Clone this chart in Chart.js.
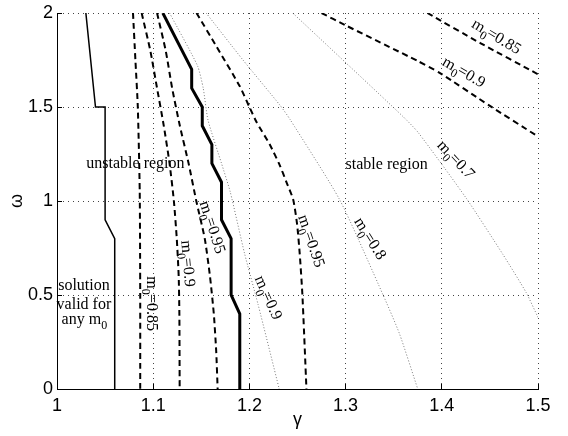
<!DOCTYPE html>
<html>
<head>
<meta charset="utf-8">
<script src="https://cdn.jsdelivr.net/npm/chart.js@4"></script>
<style>
  html, body { margin: 0; padding: 0; background: #fff; }
  #wrap { width: 568px; height: 436px; }
</style>
</head>
<body>
<div id="wrap"><canvas id="chart-stab" width="568" height="436"></canvas></div>
<script>
// boundary valid for any m0 (thin solid)
const anyG = [1.03, 1.04, 1.05, 1.05, 1.06, 1.06];
const anyW = [2, 1.5, 1.5, 0.9, 0.8, 0];

// thick solid boundary
const thickG = [1.11, 1.14, 1.14, 1.151, 1.151, 1.161, 1.161, 1.171, 1.171, 1.181, 1.181, 1.19, 1.19];
const thickW = [2, 1.7, 1.6, 1.5, 1.4, 1.3, 1.2, 1.1, 0.9, 0.8, 0.5, 0.4, 0];

// dashed, left side (m0 = 0.85, 0.9, 0.95)
const d085G = [1.079, 1.0815, 1.084, 1.086, 1.0865, 1.0865];
const d085W = [2, 1.75, 1.5, 1.05, 0.5, 0];
const d09G = [1.088, 1.097, 1.104, 1.111, 1.117, 1.1215, 1.1245, 1.1265, 1.1272, 1.1275];
const d09W = [2, 1.8, 1.6, 1.4, 1.2, 1.0, 0.8, 0.6, 0.4, 0];
const d095G = [1.104, 1.113, 1.1197, 1.1277, 1.1368, 1.1448, 1.1536, 1.159, 1.163, 1.1655, 1.167];
const d095W = [2, 1.8, 1.6, 1.4, 1.2, 1.0, 0.8, 0.6, 0.4, 0.2, 0];

// dashed, right side (m0 = 0.95, 0.9, 0.85)
const r095G = [1.145, 1.166, 1.19, 1.2, 1.2074, 1.2212, 1.2316, 1.2385, 1.2454, 1.2495, 1.2523, 1.2551, 1.2593];
const r095W = [2, 1.82, 1.61, 1.5, 1.42, 1.3, 1.19, 1.1, 1.01, 0.88, 0.72, 0.5, 0];
const r09G = [1.275, 1.299, 1.3752, 1.3977, 1.4496, 1.4981, 1.5];
const r09W = [2, 1.937, 1.744, 1.682, 1.507, 1.349, 1.342];
const r085G = [1.385, 1.44, 1.5];
const r085W = [2, 1.84, 1.674];

// dotted (m0 = 0.9, 0.8, 0.7)
const p09G = [1.117, 1.146, 1.152, 1.157, 1.171, 1.18, 1.195, 1.209, 1.231];
const p09W = [2, 1.72, 1.6, 1.43, 1.2, 1.05, 0.72, 0.45, 0];
const p08G = [1.155, 1.193, 1.232, 1.242, 1.294, 1.339, 1.356, 1.375];
const p08W = [2, 1.752, 1.508, 1.436, 1.005, 0.5, 0.294, 0];
const p07G = [1.245, 1.3587, 1.3752, 1.4255, 1.4635, 1.4877, 1.5];
const p07W = [2, 1.454, 1.366, 1.014, 0.716, 0.513, 0.381];

// contour labels: value, gamma, omega, rotation (deg)
const labelVals = ['0.85', '0.9', '0.7', '0.8', '0.95', '0.9', '0.95', '0.9', '0.85'];
const labelG = [1.4566, 1.4226, 1.4143, 1.325, 1.2638, 1.2191, 1.161, 1.1355, 1.0983];
const labelW = [1.872, 1.683, 1.218, 0.799, 0.786, 0.485, 0.86, 0.667, 0.454];
const labelRot = [31, 30, 47, 58, 71, 66, 72, 85, 90];

const pts = (g, w) => g.map((v, i) => ({ x: v, y: w[i] }));

document.addEventListener('DOMContentLoaded', function () {
    const serif = '"Liberation Serif", "Times New Roman", serif';
    const sans = '"Liberation Sans", Arial, sans-serif';

    const solid = (g, w, lw) => ({ data: pts(g, w), borderColor: '#000', borderWidth: lw, tension: 0 });
    const dashed = (g, w) => ({ data: pts(g, w), borderColor: '#000', borderWidth: 2, borderDash: [6, 4], tension: 0.2 });
    const dotted = (g, w) => ({ data: pts(g, w), borderColor: '#777', borderWidth: 1, borderDash: [1, 2], tension: 0.2 });
    const fmt = v => String(Math.round(v * 10) / 10);

    // m0 text with subscript
    function drawM0(ctx, val, prefix) {
        ctx.font = '16px ' + serif;
        const wPre = ctx.measureText(prefix).width;
        const wRest = ctx.measureText('=' + val).width;
        ctx.font = '12px ' + serif;
        const wSub = ctx.measureText('0').width;
        const total = wPre + wSub * 0.85 + (val ? wRest : 0);
        let cx = -total / 2;
        ctx.textBaseline = 'middle';
        ctx.textAlign = 'left';
        ctx.font = '16px ' + serif;
        ctx.fillText(prefix, cx, 0);
        cx += wPre;
        ctx.font = '12px ' + serif;
        ctx.fillText('0', cx, 6);
        cx += wSub * 0.85;
        if (val) {
            ctx.font = '16px ' + serif;
            ctx.fillText('=' + val, cx, 0);
        }
    }

    const textPlugin = {
        id: 'texts',
        afterDatasetsDraw(chart) {
            const { ctx, chartArea } = chart;
            const x = chart.scales.x, y = chart.scales.y;
            ctx.save();
            // inward tick marks
            ctx.strokeStyle = '#000';
            ctx.lineWidth = 1;
            ctx.setLineDash([]);
            ctx.beginPath();
            x.ticks.forEach(t => {
                const px = Math.round(x.getPixelForValue(t.value) + 0.5) - 0.5;
                ctx.moveTo(px, chartArea.bottom);
                ctx.lineTo(px, chartArea.bottom - 5);
            });
            y.ticks.forEach(t => {
                const py = Math.round(y.getPixelForValue(t.value) + 0.5) - 0.5;
                ctx.moveTo(chartArea.left, py);
                ctx.lineTo(chartArea.left + 5, py);
            });
            ctx.stroke();

            ctx.fillStyle = '#000';
            // contour labels
            labelVals.forEach((v, i) => {
                ctx.save();
                ctx.translate(x.getPixelForValue(labelG[i]), y.getPixelForValue(labelW[i]));
                ctx.rotate(labelRot[i] * Math.PI / 180);
                drawM0(ctx, v, 'm');
                ctx.restore();
            });

            // region texts
            ctx.font = '16px ' + serif;
            ctx.textAlign = 'center';
            ctx.textBaseline = 'middle';
            ctx.fillText('unstable region', x.getPixelForValue(1.0815), y.getPixelForValue(1.197));
            ctx.fillText('stable region', x.getPixelForValue(1.3427), y.getPixelForValue(1.194));
            const cx = x.getPixelForValue(1.028);
            ctx.fillText('solution', cx, y.getPixelForValue(0.549));
            ctx.fillText('valid for', cx, y.getPixelForValue(0.447));
            ctx.save();
            ctx.translate(cx, y.getPixelForValue(0.367));
            drawM0(ctx, '', 'any m');
            ctx.restore();
            ctx.restore();
        }
    };

    new Chart(document.getElementById('chart-stab'), {
        type: 'line',
        data: {
            datasets: [
                dotted(p09G, p09W),
                dotted(p08G, p08W),
                dotted(p07G, p07W),
                solid(anyG, anyW, 1.5),
                solid(thickG, thickW, 3),
                dashed(d085G, d085W),
                dashed(d09G, d09W),
                dashed(d095G, d095W),
                dashed(r095G, r095W),
                dashed(r09G, r09W),
                dashed(r085G, r085W)
            ]
        },
        options: {
            responsive: false,
            animation: false,
            layout: { padding: { left: 0, top: 10, right: 30, bottom: 0 } },
            elements: { point: { radius: 0 } },
            plugins: { legend: { display: false }, tooltip: { enabled: false } },
            scales: {
                x: {
                    type: 'linear', min: 1, max: 1.5,
                    ticks: { stepSize: 0.1, padding: 6, color: '#000', font: { family: sans, size: 18 }, callback: fmt },
                    grid: { color: '#444', lineWidth: 1, drawTicks: false },
                    border: { color: '#000', width: 1, dash: [1, 4] },
                    title: { display: true, text: 'γ', color: '#000', font: { family: sans, size: 18 }, padding: { top: 0, bottom: 5 } },
                    afterFit: s => { s.height = 47; }
                },
                y: {
                    type: 'linear', min: 0, max: 2,
                    ticks: { stepSize: 0.5, padding: 4, color: '#000', font: { family: sans, size: 18, lineHeight: 1 }, callback: fmt },
                    grid: { color: '#444', lineWidth: 1, drawTicks: false },
                    border: { color: '#000', width: 1, dash: [1, 4] },
                    title: { display: true, text: 'ω', color: '#000', font: { family: sans, size: 18 }, padding: { top: 6, bottom: 0 } },
                    afterFit: s => { s.width = 57; }
                }
            }
        },
        plugins: [textPlugin]
    });
});
</script>
</body>
</html>
